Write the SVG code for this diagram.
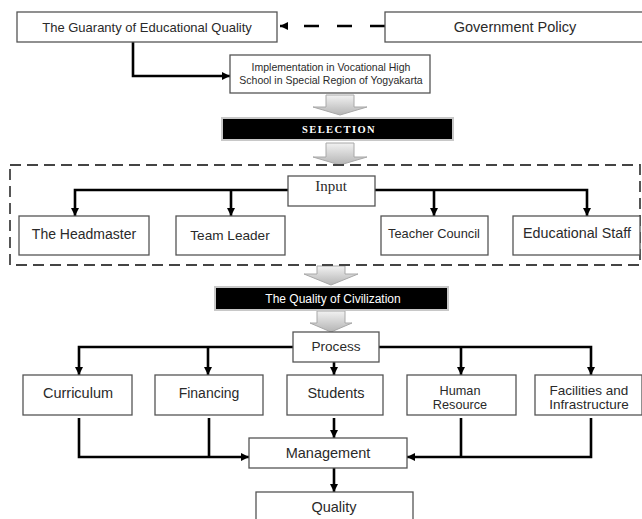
<svg xmlns="http://www.w3.org/2000/svg" width="642" height="519" viewBox="0 0 642 519">
<defs>
<style>
.box{fill:#fff;stroke:#555;stroke-width:1.3}
.dark{fill:#000;stroke:#c8c8c8;stroke-width:2}
.t{font-family:"Liberation Sans",Arial,sans-serif;fill:#2a2a2a;text-anchor:middle}
.w{font-family:"Liberation Sans",Arial,sans-serif;fill:#fff;text-anchor:middle}
.ln{fill:none;stroke:#000;stroke-width:2.6}
.blk{fill:url(#g);stroke:#a8a8a8;stroke-width:1}
</style>
<linearGradient id="g" x1="0" y1="0" x2="0" y2="1">
<stop offset="0" stop-color="#f2f2f2"/>
<stop offset="1" stop-color="#b4b4b4"/>
</linearGradient>
<marker id="ah" viewBox="0 0 10 10" refX="10" refY="5" markerUnits="userSpaceOnUse" markerWidth="8" markerHeight="8" orient="auto">
<path d="M0,0 L10,5 L0,10 z" fill="#000"/>
</marker>
</defs>

<g id="connectors">
<path class="ln" d="M385,26 H280" stroke-dasharray="15 18" marker-end="url(#ah)"/>
<path class="ln" d="M133,42 V76 H230" marker-end="url(#ah)"/>
<path class="ln" d="M288,190 H75 V216" marker-end="url(#ah)"/>
<path class="ln" d="M231,190 V216" marker-end="url(#ah)"/>
<path class="ln" d="M375,190 H587 V216" marker-end="url(#ah)"/>
<path class="ln" d="M434,190 V216" marker-end="url(#ah)"/>
<path class="ln" d="M293,347 H79 V375" marker-end="url(#ah)"/>
<path class="ln" d="M208,347 V375" marker-end="url(#ah)"/>
<path class="ln" d="M379,347 H591 V375" marker-end="url(#ah)"/>
<path class="ln" d="M461,347 V375" marker-end="url(#ah)"/>
<path class="ln" d="M334,362 V375" marker-end="url(#ah)"/>
<path class="ln" d="M79,418 V457 H249" marker-end="url(#ah)"/>
<path class="ln" d="M209,418 V457"/>
<path class="ln" d="M591,418 V457 H407" marker-end="url(#ah)"/>
<path class="ln" d="M461,418 V457"/>
<path class="ln" d="M334,418 V438" marker-end="url(#ah)"/>
<path class="ln" d="M334,468 V492" marker-end="url(#ah)"/>
<path class="blk" d="M326,95 H354 V107 H367 L340,115 L313,107 H326 Z"/>
<path class="blk" d="M326,143 H354 V157 H367 L340,165 L313,157 H326 Z"/>
<path class="blk" d="M317,266 H345 V274 H358 L331,285 L304,274 H317 Z"/>
<path class="blk" d="M317,311 H345 V323 H352 L331,332 L310,323 H317 Z"/>
</g>

<rect x="10" y="165" width="630" height="100" fill="none" stroke="#444" stroke-width="1.8" stroke-dasharray="11 6"/>

<g id="guaranty"><rect class="box" x="17" y="12" width="260" height="30"/><text class="t" x="147" y="31.5" font-size="13">The Guaranty of Educational Quality</text></g>
<g id="government"><rect class="box" x="385" y="12" width="262" height="30"/><text class="t" x="515" y="32" font-size="14.5">Government Policy</text></g>
<g id="implementation"><rect class="box" x="230" y="55" width="200" height="38"/><text class="t" x="331" y="71" font-size="10.5">Implementation in Vocational High</text><text class="t" x="331" y="84" font-size="10.5">School in Special Region of Yogyakarta</text></g>
<g id="selection"><rect class="dark" x="222" y="118" width="231" height="22"/><text class="w" x="339" y="133" font-size="10.5" font-weight="bold" letter-spacing="1.4" style="font-family:'Liberation Serif',serif">SELECTION</text></g>
<g id="input"><rect class="box" x="288" y="176" width="87" height="30"/><text class="t" x="331" y="191" font-size="15" style="font-family:'Liberation Serif',serif">Input</text></g>
<g id="headmaster"><rect class="box" x="19" y="216" width="130" height="39"/><text class="t" x="84" y="239" font-size="14">The Headmaster</text></g>
<g id="teamleader"><rect class="box" x="176" y="216" width="109" height="39"/><text class="t" x="230" y="240" font-size="13.6">Team Leader</text></g>
<g id="teachercouncil"><rect class="box" x="381" y="216" width="107" height="39"/><text class="t" x="434" y="238" font-size="12.8">Teacher Council</text></g>
<g id="educationalstaff"><rect class="box" x="513" y="216" width="127" height="39"/><text class="t" x="577" y="238" font-size="14.3">Educational Staff</text></g>
<g id="civilization"><rect class="dark" x="215" y="287" width="233" height="23"/><text class="w" x="333" y="302.5" font-size="12">The Quality of Civilization</text></g>
<g id="process"><rect class="box" x="293" y="332" width="86" height="30"/><text class="t" x="336" y="351" font-size="13.6">Process</text></g>
<g id="curriculum"><rect class="box" x="23" y="375" width="109" height="40"/><text class="t" x="78" y="398" font-size="14.5">Curriculum</text></g>
<g id="financing"><rect class="box" x="155" y="375" width="108" height="40"/><text class="t" x="209" y="398" font-size="14">Financing</text></g>
<g id="students"><rect class="box" x="287" y="375" width="96" height="40"/><text class="t" x="336" y="398" font-size="14.5">Students</text></g>
<g id="humanresource"><rect class="box" x="407" y="375" width="109" height="40"/><text class="t" x="460" y="395" font-size="12.7">Human</text><text class="t" x="460" y="409" font-size="12.7">Resource</text></g>
<g id="facilities"><rect class="box" x="535" y="375" width="107" height="40"/><text class="t" x="589" y="395" font-size="13.5">Facilities and</text><text class="t" x="589" y="409" font-size="13.5">Infrastructure</text></g>
<g id="management"><rect class="box" x="249" y="438" width="158" height="30"/><text class="t" x="328" y="458" font-size="14.5">Management</text></g>
<g id="quality"><rect class="box" x="256" y="492" width="157" height="40"/><text class="t" x="334" y="512" font-size="14.5">Quality</text></g>
</svg>
